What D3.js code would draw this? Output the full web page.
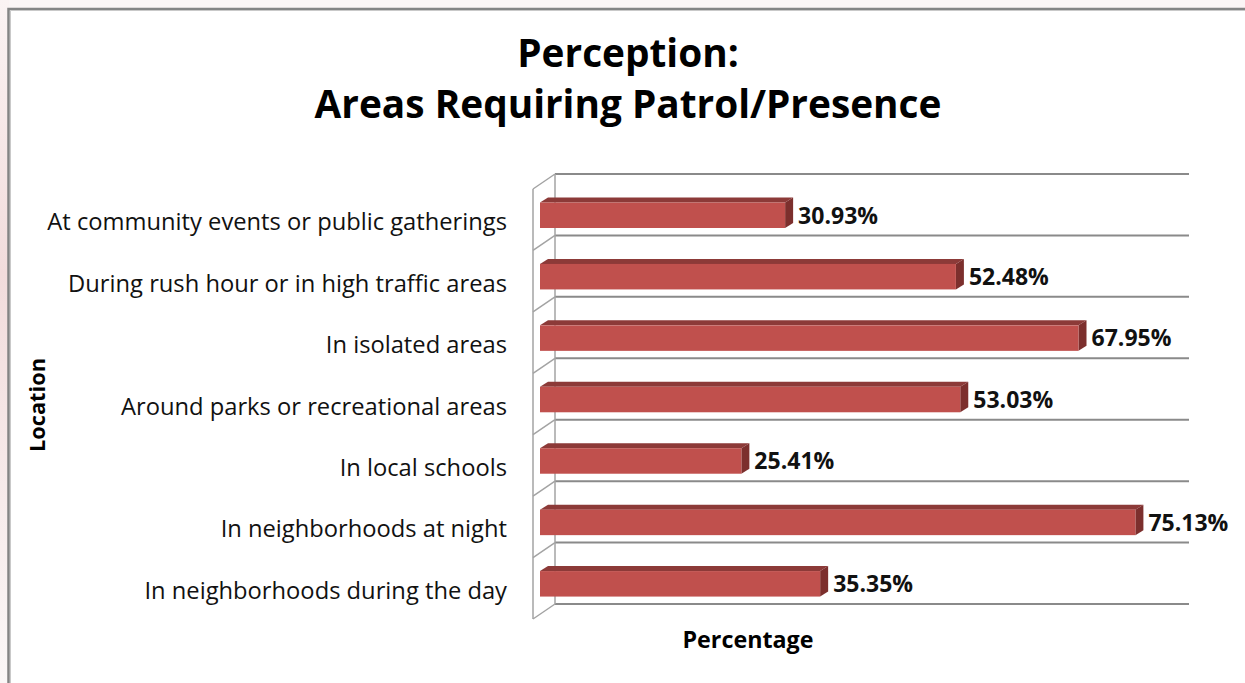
<!DOCTYPE html>
<html><head><meta charset="utf-8">
<script src="https://cdn.jsdelivr.net/npm/d3@7"></script>
<style>html,body{margin:0;padding:0;background:#fff;}svg{display:block;}</style>
</head><body>
<svg id="chart" width="1245" height="683"></svg>
<script>
const categories = [
  "At community events or public gatherings",
  "During rush hour or in high traffic areas",
  "In isolated areas",
  "Around parks or recreational areas",
  "In local schools",
  "In neighborhoods at night",
  "In neighborhoods during the day"
];
const values = [30.93, 52.48, 67.95, 53.03, 25.41, 75.13, 35.35];
const titleLines = ["Perception:", "Areas Requiring Patrol/Presence"];
const xTitle = "Percentage";
const yTitle = "Location";
const xDomain = [0, 80];

const svg = d3.select("#chart");
const W = 1245, H = 683;
const FONT = "'Open Sans', 'Noto Sans', sans-serif";

function fit(sel, refNode, target) {
  const w = refNode.getComputedTextLength();
  const fs = parseFloat(d3.select(refNode).attr("font-size"));
  sel.attr("font-size", fs * target / w);
}

// background & frame
const defs = svg.append("defs");
const lg = defs.append("linearGradient").attr("id","side").attr("x1",0).attr("y1",0).attr("x2",0).attr("y2",1);
lg.append("stop").attr("offset","0%").attr("stop-color","#fbf3f3");
lg.append("stop").attr("offset","40%").attr("stop-color","#f2dcdc");
lg.append("stop").attr("offset","100%").attr("stop-color","#fbf7f7");
svg.append("rect").attr("width",W).attr("height",H).attr("fill","#fbf5f5");
svg.append("rect").attr("x",0).attr("y",0).attr("width",9).attr("height",H).attr("fill","url(#side)");
svg.append("rect").attr("x",9).attr("y",10).attr("width",W).attr("height",H).attr("fill","#fff");
svg.append("path").attr("d",`M8.5,${H+5}V9H${W+5}`).attr("fill","none").attr("stroke","#848484").attr("stroke-width",2.5);
svg.append("path").attr("d",`M10.5,${H+5}V10.5H${W+5}`).attr("fill","none").attr("stroke","#c9c9c9").attr("stroke-width",1);

// geometry
const backX0 = 555, wallDX = 22, wallDY = 15;
const x = d3.scaleLinear().domain(xDomain).range([0, 634]);
const y = d3.scaleBand().domain(categories).range([174, 604]).padding(0);
const gridYs = categories.map(c => y(c)).concat([y.range()[1]]);

const g = svg.append("g");
g.selectAll("line.grid").data(gridYs).join("line")
  .attr("x1", backX0).attr("x2", backX0 + x(xDomain[1]))
  .attr("y1", d => d).attr("y2", d => d)
  .attr("stroke", "#8a8a8a").attr("stroke-width", 2);
g.append("line").attr("x1",backX0).attr("x2",backX0).attr("y1",gridYs[0]).attr("y2",gridYs[gridYs.length-1])
  .attr("stroke","#a3a3a3").attr("stroke-width",1.5);
g.append("line").attr("x1",backX0-wallDX).attr("x2",backX0-wallDX).attr("y1",gridYs[0]+wallDY).attr("y2",gridYs[gridYs.length-1]+wallDY)
  .attr("stroke","#a3a3a3").attr("stroke-width",1.5);
g.selectAll("line.diag").data(gridYs).join("line")
  .attr("x1", backX0-wallDX).attr("y1", d => d+wallDY)
  .attr("x2", backX0).attr("y2", d => d)
  .attr("stroke","#a3a3a3").attr("stroke-width",1.5);

// bars (3D)
const barX0 = 540, barOff = 28.5, barH = 25.5, bdx = 8, bdy = 5;
const bars = g.selectAll("g.bar").data(categories.map((c,i)=>({c, v: values[i]}))).join("g");
bars.append("path").attr("fill","#8c3a38")
  .attr("d", d => { const x1 = barX0 + x(d.v), t = y(d.c)+barOff;
    return `M${barX0},${t}L${barX0+bdx},${t-bdy}L${x1+bdx},${t-bdy}L${x1},${t}Z`; });
bars.append("path").attr("fill","#7c2f2d")
  .attr("d", d => { const x1 = barX0 + x(d.v), t = y(d.c)+barOff;
    return `M${x1},${t}L${x1+bdx},${t-bdy}L${x1+bdx},${t+barH-bdy}L${x1},${t+barH}Z`; });
bars.append("rect").attr("fill","#c0504d")
  .attr("x", barX0).attr("y", d => y(d.c)+barOff)
  .attr("width", d => x(d.v)).attr("height", barH);
const vlab = bars.append("text")
  .attr("x", d => barX0 + x(d.v) + bdx + 5)
  .attr("y", d => y(d.c)+barOff+barH/2)
  .attr("dy","0.36em")
  .attr("font-family",FONT).attr("font-weight","bold").attr("font-size",18).attr("fill","#111")
  .text(d => d.v.toFixed(2) + "%");
fit(vlab, vlab.nodes()[2], 80);

// category labels
const clab = g.selectAll("text.cat").data(categories).join("text")
  .attr("x", 507).attr("y", d => y(d) + y.bandwidth()/2 + 17).attr("dy","0.36em")
  .attr("text-anchor","end").attr("font-family",FONT).attr("font-size",20).attr("fill","#111")
  .text(d => d);
fit(clab, clab.nodes()[0], 460);

// titles
const tl = svg.selectAll("text.title").data(titleLines).join("text")
  .attr("x", 628).attr("y", (d,i) => 67 + i*51)
  .attr("text-anchor","middle").attr("font-family",FONT).attr("font-weight","bold").attr("font-size",32).attr("fill","#000")
  .text(d => d);
fit(tl, tl.nodes()[1], 627);
const xt = svg.append("text").attr("x",748).attr("y",648).attr("text-anchor","middle")
  .attr("font-family",FONT).attr("font-weight","bold").attr("font-size",20).attr("fill","#000").text(xTitle);
fit(xt, xt.node(), 131);
const yt = svg.append("text").attr("transform","translate(45,405) rotate(-90)").attr("text-anchor","middle")
  .attr("font-family",FONT).attr("font-weight","bold").attr("font-size",20).attr("fill","#000").text(yTitle);
fit(yt, yt.node(), 94);
</script>
</body></html>
